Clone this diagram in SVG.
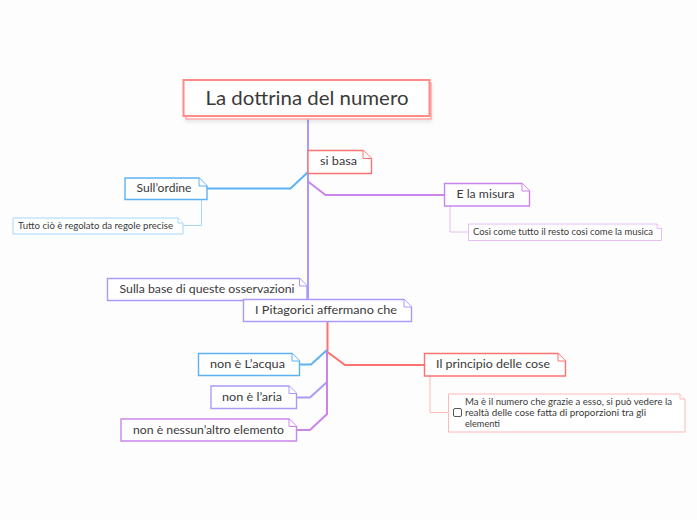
<svg xmlns="http://www.w3.org/2000/svg" width="697" height="520" viewBox="0 0 697 520">
<defs>
<style>
text{font-family:"Lato","Noto Sans",sans-serif;fill:#3a3a3a;}
.m{font-size:11.8px}
.s{font-size:8.8px}
.box{fill:#fff;stroke-width:1.4}
.fold{fill:#fff;stroke-width:1}
.c{fill:none;stroke-width:2}
.t{fill:none;stroke-width:1}
.red{stroke:#ff7272}.blue{stroke:#5db2f5}.vio{stroke:#a99bfa}.pur{stroke:#c985ec}
.redl{stroke:#ffb9b9}.bluel{stroke:#a5d6fb}.purl{stroke:#e3bff6}
</style>
<filter id="sh" x="-10%" y="-20%" width="120%" height="150%"><feDropShadow dx="0" dy="2" stdDeviation="2" flood-color="#000" flood-opacity=".1"/></filter>
</defs>
<rect width="697" height="520" fill="#fdfdfd"/>
<g id="connectors">
<path class="c vio" d="M308 118V300"/>
<path class="c blue" d="M207 188.500H290.500L308 172"/>
<path class="c pur" d="M308 181.500L325.500 195H445"/>
<path class="t bluel" d="M201.500 200V225.500H183"/>
<path class="t purl" d="M450 206V232H469"/>
<path class="c red" d="M327.500 322V352L345 365H425"/>
<path class="c blue" d="M300 364.500H311L327 350"/>
<path class="c vio" d="M297 397.500H310L327 382"/>
<path class="c pur" d="M327 352V414L310 430H297"/>
<path class="t redl" d="M430 376V412.500H449"/>
</g>
<g id="root">
<path d="M186 83H431V119H186Z" fill="#fff" stroke="#ffa8a8" stroke-width="1.500" filter="url(#sh)"/>
<rect x="183.500" y="80" width="246" height="36" fill="#fff" stroke="#ff8a86" stroke-width="2"/>
<text x="307" y="104.500" text-anchor="middle" font-size="19" textLength="203" lengthAdjust="spacingAndGlyphs">La dottrina del numero</text>
</g>
<g id="n-si-basa">
<path class="box red" d="M308 150.500H363L371.500 158.500V173.500H308Z"/>
<path class="fold red" d="M363 150.500V158.500H371.500"/>
<text class="m" x="320" y="165" textLength="37" lengthAdjust="spacingAndGlyphs">si basa</text>
</g>
<g id="n-ordine">
<path class="box blue" d="M125 178H199L207 186V199.500H125Z"/>
<path class="fold blue" d="M199 178V186H207"/>
<text class="m" x="136.500" y="192" textLength="55" lengthAdjust="spacingAndGlyphs">Sull’ordine</text>
</g>
<g id="n-regole">
<path class="box bluel" d="M13 218H178L183 223V234H13Z" style="stroke-width:1"/>
<path class="fold bluel" d="M178 218V223H183"/>
<text class="s" x="18" y="228.500" textLength="155" lengthAdjust="spacingAndGlyphs">Tutto ciò è regolato da regole precise</text>
</g>
<g id="n-misura">
<path class="box pur" d="M444.500 183.500H522L529.500 191V206H444.500Z"/>
<path class="fold pur" d="M522 183.500V191H529.500"/>
<text class="m" x="456.500" y="198" textLength="58" lengthAdjust="spacingAndGlyphs">E la misura</text>
</g>
<g id="n-musica">
<path class="box purl" d="M468.500 224H657L661.500 228.500V240.500H468.500Z" style="stroke-width:1"/>
<path class="fold purl" d="M657 224V228.500H661.500"/>
<text class="s" x="473" y="235" textLength="180" lengthAdjust="spacingAndGlyphs">Così come tutto il resto così come la musica</text>
</g>
<g id="n-osservazioni">
<path class="box vio" d="M107.500 278.500H299.500L307 286V300.500H107.500Z"/>
<path class="fold vio" d="M299.500 278.500V286H307"/>
<text class="m" x="119.500" y="293" textLength="175" lengthAdjust="spacingAndGlyphs">Sulla base di queste osservazioni</text>
</g>
<g id="n-pitagorici">
<path class="box vio" d="M243.500 299.500H404L411.500 307V321.500H243.500Z"/>
<path class="fold vio" d="M404 299.500V307H411.500"/>
<text class="m" x="255" y="314" textLength="142" lengthAdjust="spacingAndGlyphs">I Pitagorici affermano che</text>
</g>
<g id="n-acqua">
<path class="box blue" d="M198.500 353.500H292L299.500 361V375.500H198.500Z"/>
<path class="fold blue" d="M292 353.500V361H299.500"/>
<text class="m" x="210" y="368" textLength="75" lengthAdjust="spacingAndGlyphs">non è L’acqua</text>
</g>
<g id="n-aria">
<path class="box vio" d="M211 386H289L296.500 393.500V408.500H211Z"/>
<path class="fold vio" d="M289 386V393.500H296.500"/>
<text class="m" x="222" y="401" textLength="60" lengthAdjust="spacingAndGlyphs">non è l’aria</text>
</g>
<g id="n-elemento">
<path class="box pur" d="M121 419H289L296.500 426.500V441H121Z"/>
<path class="fold pur" d="M289 419V426.500H296.500"/>
<text class="m" x="133" y="434" textLength="151" lengthAdjust="spacingAndGlyphs">non è nessun’altro elemento</text>
</g>
<g id="n-principio">
<path class="box red" d="M424.500 353.500H558L565.500 361V376H424.500Z"/>
<path class="fold red" d="M558 353.500V361H565.500"/>
<text class="m" x="436" y="368" textLength="114" lengthAdjust="spacingAndGlyphs">Il principio delle cose</text>
</g>
<g id="n-realta">
<path class="box redl" d="M448.500 394H680L685 399V432H448.500Z" style="stroke-width:1"/>
<path class="fold redl" d="M680 394V399H685"/>
<rect x="453.500" y="408.500" width="8" height="8" rx="1.500" fill="#fff" stroke="#444" stroke-width=".9"/>
<text class="s" x="465" y="405" textLength="207" lengthAdjust="spacingAndGlyphs">Ma è il numero che grazie a esso, si può vedere la</text>
<text class="s" x="465" y="416" textLength="181" lengthAdjust="spacingAndGlyphs">realtà delle cose fatta di proporzioni tra gli</text>
<text class="s" x="465" y="427" textLength="35" lengthAdjust="spacingAndGlyphs">elementi</text>
</g>
</svg>
